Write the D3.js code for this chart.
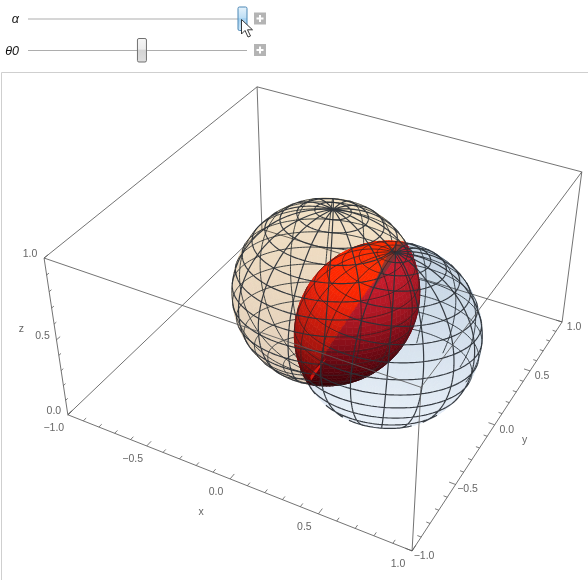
<!DOCTYPE html>
<html>
<head>
<meta charset="utf-8">
<script src="https://cdn.jsdelivr.net/npm/d3@7"></script>
<style>
  html, body { margin: 0; padding: 0; background: #fff; }
  svg { display: block; }
  text { font-family: "Liberation Sans", Arial, sans-serif; }
</style>
</head>
<body>
<div id="chart"></div>
<script>
// axis values
const xTickLabels = [-1, -0.5, 0, 0.5, 1];
const yTickLabels = [-1, -0.5, 0, 0.5, 1];
const zTickLabels = [0, 0.5, 1];

// slider settings, 0..1 along the track
const sliderNames = ['α', 'θ0'];
const sliderValues = [1, 0.52];

// the two spheres
const sphereNames = ['tan', 'blue'];
const sphereCenterX = [-0.045, 0.413];
const sphereCenterY = [0.083, -0.09];
const sphereCenterZ = [0.436, 0.436];
const sphereRadius = [0.5, 0.5];
const sphereDepth = [0, 4];
// the lower back of the blue sphere shows no mesh
const backMeshFromLat = [-90, -30];

// mesh lines on each sphere, degrees
const meshLatitudes = [-78.75, -67.5, -56.25, -45, -33.75, -22.5, -11.25, 0, 11.25, 22.5, 33.75, 45, 56.25, 67.5, 78.75];
const meshLongitudes = [11.25, 33.75, 56.25, 78.75, 101.25, 123.75, 146.25, 168.75, 191.25, 213.75, 236.25, 258.75, 281.25, 303.75, 326.25, 348.75];

const width = 588, height = 580;

const xScale = d3.scaleLinear().domain([-1, 1]).range([0, 1]);
const yScale = d3.scaleLinear().domain([-1, 1]).range([0, 1]);
const zScale = d3.scaleLinear().domain([0, 1]).range([0, 1]);
const radiusPx = d3.scaleLinear().domain([0, 1]).range([0, 188]);
const sliderX = d3.scaleLinear().domain([0, 1]).range([33, 242.5]);

// camera is fitted to where the box corners land: u, v, w, px, py
const boxCorners = [
  [0, 0, 0, 68, 415], [1, 0, 0, 412, 551], [1, 1, 0, 562, 322], [0, 1, 0, 262, 229],
  [0, 0, 1, 44, 258], [1, 0, 1, 421, 387], [1, 1, 1, 582, 172], [0, 1, 1, 257, 87]
];

function fitCamera(corners) {
  const rows = [], rhs = [];
  corners.forEach(([u, v, w, px, py]) => {
    rows.push([u, v, w, 1, 0, 0, 0, 0, -px * u, -px * v, -px * w]); rhs.push(px);
    rows.push([0, 0, 0, 0, u, v, w, 1, -py * u, -py * v, -py * w]); rhs.push(py);
  });
  const n = 11;
  const m = d3.range(n).map(i => d3.range(n + 1).map(j =>
    d3.sum(rows, (r, k) => r[i] * (j < n ? r[j] : rhs[k]))));
  for (let i = 0; i < n; i++) {
    let best = i;
    for (let k = i + 1; k < n; k++) if (Math.abs(m[k][i]) > Math.abs(m[best][i])) best = k;
    [m[i], m[best]] = [m[best], m[i]];
    for (let k = 0; k < n; k++) {
      if (k === i) continue;
      const f = m[k][i] / m[i][i];
      for (let j = i; j <= n; j++) m[k][j] -= f * m[i][j];
    }
  }
  return m.map((r, i) => r[n] / r[i]);
}

const cam = fitCamera(boxCorners);

function project(x, y, z) {
  const u = xScale(x), v = yScale(y), w = zScale(z);
  const d = cam[8] * u + cam[9] * v + cam[10] * w + 1;
  return [(cam[0] * u + cam[1] * v + cam[2] * w + cam[3]) / d,
          (cam[4] * u + cam[5] * v + cam[6] * w + cam[7]) / d];
}

// view space: x right, y down, z towards the viewer
const toScreen = p => [p[0], p[1]];
const dot = (a, b) => a[0] * b[0] + a[1] * b[1] + a[2] * b[2];
const sub = (a, b) => [a[0] - b[0], a[1] - b[1], a[2] - b[2]];
const cross = (a, b) => [a[1] * b[2] - a[2] * b[1], a[2] * b[0] - a[0] * b[2], a[0] * b[1] - a[1] * b[0]];
const unit = a => { const l = Math.sqrt(dot(a, a)); return a.map(d => d / l); };

const pole = unit([0.078, -0.878, 0.472]);
const e1 = unit(cross(pole, [0.2, 0, 1]));
const e2 = cross(pole, e1);

const spheres = sphereNames.map((name, i) => {
  const s = project(sphereCenterX[i], sphereCenterY[i], sphereCenterZ[i]);
  return { name, c: [s[0], s[1], sphereDepth[i]], r: radiusPx(sphereRadius[i]) };
});

function surface(s, lat, lon) {
  const a = lat * Math.PI / 180, b = lon * Math.PI / 180;
  const n = d3.range(3).map(k => Math.cos(a) * Math.cos(b) * e1[k] + Math.cos(a) * Math.sin(b) * e2[k] + Math.sin(a) * pole[k]);
  return { n, p: n.map((d, k) => s.c[k] + s.r * d) };
}

const insideOf = (s, p) => { const d = sub(p, s.c); return dot(d, d) - s.r * s.r; };

// cut a polygon by the other sphere, keep = -1 keeps the part inside it
function clip(poly, s, keep) {
  const out = [];
  poly.forEach((a, i) => {
    const b = poly[(i + 1) % poly.length];
    const fa = insideOf(s, a) * keep, fb = insideOf(s, b) * keep;
    if (fa >= 0) out.push(a);
    if ((fa >= 0) !== (fb >= 0)) {
      const t = fa / (fa - fb);
      out.push(a.map((d, k) => d + t * (b[k] - d)));
    }
  });
  return out;
}

// colours of the surfaces, one thin layer each so front over back adds up
const shellColor = [
  d3.scaleLinear().domain([-0.2, 0.5, 1]).range(['#f3e9dc', '#fbf3e2', '#fff7e4']),
  d3.scaleLinear().domain([-0.2, 0.5, 1]).range(['#e6edf4', '#f1f5fa', '#fbfdff'])
];
const shellLight = [unit([0.1, -0.4, 0.9]), unit([-0.05, 0.6, 0.8])];
// index = the sphere whose surface it is
const lensColor = [
  d3.scaleLinear().domain([-0.6, -0.1, 0.3, 0.6]).range(['#3e0006', '#740a14', '#b01622', '#d01c2c']),
  d3.scaleLinear().domain([-0.2, 0.2, 0.65, 0.85]).range(['#5a0006', '#a01410', '#e0200c', '#ff2800'])
];
const lensLight = [unit([0.1, -0.8, 0.6]), unit([-0.1, -0.85, 0.5])];

const backFaces = [], lensFaces = [], frontFaces = [];
const backPath = d3.path(), frontPath = d3.path(), lensPath = d3.path();
const step = 4;

spheres.forEach((s, i) => {
  const other = spheres[1 - i];
  for (let lat = -90; lat < 90; lat += step) {
    for (let lon = 0; lon < 360; lon += step) {
      const mid = surface(s, lat + step / 2, lon + step / 2);
      const quad = [[lat, lon], [lat, lon + step], [lat + step, lon + step], [lat + step, lon]]
        .map(([a, b]) => surface(s, a, b).p);
      const isFront = mid.n[2] > 0;
      const outer = clip(quad, other, 1);
      if (outer.length > 2) {
        const face = { pts: outer.map(toScreen), fill: shellColor[i](dot(mid.n, shellLight[i])), s: i };
        (isFront ? frontFaces : backFaces).push(face);
      }
      if (isFront) {
        const inner = clip(quad, other, -1);
        if (inner.length > 2) {
          lensFaces.push({ pts: inner.map(toScreen), depth: mid.p[2], fill: lensColor[i](dot(mid.n, lensLight[i])) });
        }
      }
    }
  }

  // mesh lines are cut into short pieces and sorted into the three layers
  const addSegment = (a, b, lat) => {
    const m = a.n.map((d, k) => d + b.n[k]);
    const pm = a.p.map((d, k) => (d + b.p[k]) / 2);
    const isIn = insideOf(other, pm) < 0;
    let path = null;
    if (m[2] > 0) path = isIn ? lensPath : frontPath;
    else if (!isIn && lat >= backMeshFromLat[i]) path = backPath;
    if (!path) return;
    const pa = toScreen(a.p), pb = toScreen(b.p);
    path.moveTo(pa[0], pa[1]);
    path.lineTo(pb[0], pb[1]);
  };
  meshLatitudes.forEach(lat => {
    for (let lon = 0; lon < 360; lon += 2) addSegment(surface(s, lat, lon), surface(s, lat, lon + 2), lat);
  });
  meshLongitudes.forEach(lon => {
    for (let lat = -90; lat < 90; lat += 2) addSegment(surface(s, lat, lon), surface(s, lat + 2, lon), lat);
  });
});

lensFaces.sort((a, b) => a.depth - b.depth);

// the rim where both spheres meet shows as a dark sliver up top and a bright one at the tip
const ridgeMid = spheres[0].c.map((d, k) => (d + spheres[1].c[k]) / 2);
const ridgeNormal = unit(sub(spheres[1].c.slice(0, 2).concat(0), spheres[0].c.slice(0, 2).concat(0)));
const ridgeDir = [-ridgeNormal[1], ridgeNormal[0], 0];
const ridgeHalf = Math.sqrt(spheres[0].r ** 2 - dot(sub(spheres[1].c, ridgeMid), sub(spheres[1].c, ridgeMid)));
function sliver(t0, t1, w, side) {
  const ts = d3.range(0, 1.01, 0.1).map(f => ({ t: t0 + (t1 - t0) * f, b: Math.sin(Math.PI * Math.sqrt(f)) * w }));
  const at = (t, off) => [ridgeMid[0] + ridgeDir[0] * ridgeHalf * t + ridgeNormal[0] * off,
                          ridgeMid[1] + ridgeDir[1] * ridgeHalf * t + ridgeNormal[1] * off];
  return ts.map(d => at(d.t, 0)).concat(ts.reverse().map(d => at(d.t, d.b * side)));
}

const svg = d3.select('#chart').append('svg').attr('width', width).attr('height', height);
const line = d3.line();

// graphics frame
svg.append('path').attr('d', 'M1.5,580V72.5H588').attr('fill', 'none').attr('stroke', '#cfcfcf');

// sliders
const defs = svg.append('defs');
const thumbFills = [['#e6f3fc', '#bfdff5', '#a3d0f0', '#cde6f8'], ['#f6f6f6', '#ececec', '#d4d4d4', '#dedede']];
thumbFills.forEach((stops, i) => {
  const g = defs.append('linearGradient').attr('id', 'thumb' + i).attr('x1', 0).attr('x2', 0).attr('y1', 0).attr('y2', 1);
  [0, 0.45, 0.5, 1].forEach((o, k) => g.append('stop').attr('offset', o).attr('stop-color', stops[k]));
});
const sliderY = [19, 50.5];
const sliderGroup = svg.append('g');
sliderNames.forEach((name, i) => {
  const y = sliderY[i];
  sliderGroup.append('text').attr('x', 19).attr('y', y + 4).attr('text-anchor', 'end')
    .style('font-style', 'italic').style('font-size', '12.5px')
    .attr('fill', '#111').text(name);
  sliderGroup.append('line').attr('x1', 28).attr('x2', 247).attr('y1', y).attr('y2', y)
    .attr('stroke', '#adadad').attr('stroke-width', 1.2);
  sliderGroup.append('rect').attr('x', sliderX(sliderValues[i]) - 4.5).attr('y', y - 12).attr('width', 9).attr('height', 23.5).attr('rx', 1.5)
    .attr('fill', `url(#thumb${i})`).attr('stroke', i === 0 ? '#4b87b5' : '#707070');
  sliderGroup.append('rect').attr('x', 254).attr('y', y - 6.5).attr('width', 12).attr('height', 12).attr('fill', '#b4b4b4');
  sliderGroup.append('path').attr('d', `M256.5,${y - 0.5}H263.5M260,${y - 4}V${y + 3}`).attr('stroke', '#fff').attr('stroke-width', 2);
});
// mouse pointer on the first slider
svg.append('path')
  .attr('d', 'M241.5,19.5V34L245,30.5L248,37L250.5,36L247.5,29.8L252.5,29.8Z')
  .attr('fill', '#fff').attr('stroke', '#222').attr('stroke-width', 0.9);

// box edges, back ones first
const edges = (list, color, w) => list.forEach(([a, b]) => {
  svg.append('path').attr('d', line([project(...a), project(...b)])).attr('fill', 'none').attr('stroke', color).attr('stroke-width', w);
});
edges([
  [[-1, 1, 0], [1, 1, 0]], [[-1, -1, 0], [-1, 1, 0]], [[-1, 1, 0], [-1, 1, 1]],
  [[1, 1, 0], [1, 1, 1]], [[-1, 1, 1], [1, 1, 1]], [[-1, -1, 1], [-1, 1, 1]], [[1, -1, 0], [1, 1, 0]],
  [[-1, -1, 0], [1, -1, 0]], [[-1, -1, 0], [-1, -1, 1]]
], '#5a5a5a', 0.85);

// back of the spheres
const drawFaces = (parent, faces) => parent.selectAll('path').data(faces).join('path')
  .attr('d', d => line(d.pts) + 'Z').attr('fill', d => d.fill).attr('stroke', d => d.fill).attr('stroke-width', 0.6);

spheres.forEach((s, i) => {
  drawFaces(svg.append('g').style('mix-blend-mode', 'multiply'), backFaces.filter(d => d.s === i));
});
const stroke = (parent, d, color, w, op) => parent.append('path').attr('d', d.toString()).attr('fill', 'none')
  .attr('stroke', color).attr('stroke-width', w).attr('stroke-opacity', op);
stroke(svg, backPath, '#30363c', 1, 0.9);

// the red lens, where both spheres overlap
drawFaces(svg.append('g'), lensFaces);
svg.append('path').attr('d', line(sliver(-1, -0.25, 8, -1)) + 'Z').attr('fill', '#7c3c3c').attr('fill-opacity', 0.85);
svg.append('path').attr('d', line(sliver(0.95, 0.62, 3, -1)) + 'Z').attr('fill', '#e01810');
stroke(svg, lensPath, '#3c2024', 1, 0.8);

// front of the spheres
spheres.forEach((s, i) => {
  drawFaces(svg.append('g').style('mix-blend-mode', 'multiply'), frontFaces.filter(d => d.s === i));
});
stroke(svg, frontPath, '#2c3238', 1.2, 0.95);

// front edges pass over the spheres
edges([
  [[-1, -1, 1], [1, -1, 1]], [[1, -1, 1], [1, 1, 1]], [[1, -1, 0], [1, -1, 1]]
], '#5a5a5a', 0.85);

// ticks and labels
const axisText = (p, dx, dy, t) => svg.append('text').attr('x', p[0] + dx).attr('y', p[1] + dy)
  .attr('text-anchor', 'middle').attr('dominant-baseline', 'middle')
  .attr('fill', '#666').style('font-size', '10.5px').text(t);
const fmt = d3.format('.1f');
const tick = (a, b) => svg.append('path').attr('d', line([project(...a), project(...b)]))
  .attr('stroke', '#5a5a5a').attr('stroke-width', 0.8).attr('fill', 'none');

xScale.ticks(20).forEach(v => {
  const major = xTickLabels.includes(v);
  tick([v, -1, 0], [v, -1 + (major ? 0.04 : 0.025), 0]);
  if (major) axisText(project(v, -1, 0), -14, 13, fmt(v));
});
yScale.ticks(20).forEach(v => {
  const major = yTickLabels.includes(v);
  tick([1, v, 0], [1 - (major ? 0.035 : 0.02), v, 0]);
  if (major) axisText(project(1, v, 0), 12, 5, fmt(v));
});
zScale.ticks(10).forEach(v => {
  const major = zTickLabels.includes(v);
  tick([-1, -1, v], [-1, -1 + (major ? 0.03 : 0.018), v]);
  if (major) axisText(project(-1, -1, v), -14, -4, fmt(v));
});
axisText(project(0, -1, 0), -29, 33, 'x');
axisText(project(1, 0, 0), 30, 15, 'y');
axisText(project(-1, -1, 0.5), -35, -11, 'z');
</script>
</body>
</html>
